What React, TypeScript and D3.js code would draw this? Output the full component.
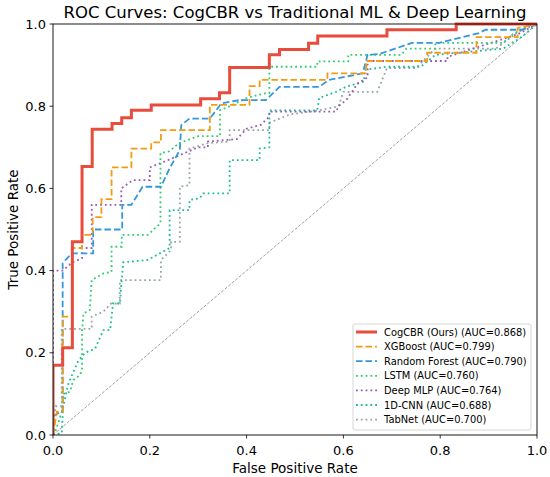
import * as d3 from "d3";

type Pt = [number, number];

const cogcbr: Pt[] = [
  [0, 0], [0, 0.17], [0.02, 0.17], [0.02, 0.212], [0.04, 0.212], [0.04, 0.47], [0.06, 0.47],
  [0.06, 0.653], [0.081, 0.653], [0.081, 0.744], [0.122, 0.744], [0.122, 0.758], [0.142, 0.758],
  [0.142, 0.772], [0.162, 0.772], [0.162, 0.79], [0.203, 0.79], [0.203, 0.803], [0.305, 0.803],
  [0.305, 0.818], [0.344, 0.818], [0.344, 0.833], [0.365, 0.833], [0.365, 0.894], [0.447, 0.894],
  [0.447, 0.925], [0.468, 0.925], [0.468, 0.938], [0.528, 0.938], [0.528, 0.953], [0.547, 0.953],
  [0.547, 0.971], [0.69, 0.971], [0.69, 0.986], [0.833, 0.986], [0.833, 1], [1, 1],
];

const xgboost: Pt[] = [
  [0, 0], [0.008, 0.057], [0.02, 0.057], [0.02, 0.288], [0.04, 0.288], [0.04, 0.455], [0.06, 0.455],
  [0.06, 0.487], [0.082, 0.487], [0.082, 0.53], [0.1, 0.53], [0.1, 0.574], [0.121, 0.574],
  [0.121, 0.651], [0.162, 0.651], [0.162, 0.697], [0.203, 0.697], [0.203, 0.712], [0.223, 0.712],
  [0.223, 0.742], [0.324, 0.742], [0.324, 0.803], [0.406, 0.803], [0.406, 0.849], [0.427, 0.849],
  [0.427, 0.864], [0.567, 0.864], [0.567, 0.88], [0.647, 0.88], [0.647, 0.91], [0.773, 0.91],
  [0.773, 0.93], [0.875, 0.93], [0.875, 0.968], [0.96, 0.968], [0.96, 0.99], [1, 1],
];

const randomForest: Pt[] = [
  [0, 0], [0, 0.045], [0.02, 0.06], [0.02, 0.418], [0.039, 0.442], [0.083, 0.442], [0.083, 0.5],
  [0.143, 0.5], [0.143, 0.56], [0.162, 0.56], [0.185, 0.604], [0.223, 0.604], [0.241, 0.649],
  [0.262, 0.693], [0.265, 0.754], [0.282, 0.77], [0.324, 0.77], [0.348, 0.807], [0.386, 0.815],
  [0.44, 0.815], [0.468, 0.847], [0.55, 0.847], [0.57, 0.864], [0.64, 0.88], [0.65, 0.925],
  [0.674, 0.927], [0.742, 0.954], [0.798, 0.954], [0.88, 0.978], [0.894, 0.986], [0.97, 0.986],
  [0.99, 1], [1, 1],
];

const lstm: Pt[] = [
  [0, 0], [0.004, 0.005], [0.019, 0.06], [0.021, 0.1], [0.035, 0.105], [0.042, 0.134],
  [0.056, 0.146], [0.06, 0.158], [0.06, 0.255], [0.063, 0.296], [0.076, 0.304], [0.08, 0.377],
  [0.104, 0.393], [0.121, 0.397], [0.121, 0.458], [0.142, 0.458], [0.142, 0.487], [0.196, 0.487],
  [0.222, 0.515], [0.222, 0.686], [0.24, 0.69], [0.26, 0.71], [0.3, 0.727], [0.345, 0.727],
  [0.345, 0.79], [0.365, 0.8], [0.4, 0.82], [0.44, 0.832], [0.447, 0.832], [0.447, 0.896],
  [0.546, 0.896], [0.546, 0.909], [0.61, 0.909], [0.61, 0.925], [0.72, 0.925], [0.73, 0.94],
  [0.79, 0.94], [0.79, 0.954], [0.93, 0.954], [0.95, 0.975], [0.99, 1], [1, 1],
];

const deepMlp: Pt[] = [
  [0, 0], [0, 0.4], [0.02, 0.4], [0.04, 0.42], [0.06, 0.43], [0.06, 0.455], [0.08, 0.455],
  [0.08, 0.56], [0.141, 0.56], [0.141, 0.6], [0.165, 0.62], [0.2, 0.62], [0.2, 0.651],
  [0.24, 0.67], [0.28, 0.69], [0.3, 0.7], [0.32, 0.7], [0.32, 0.714], [0.38, 0.72], [0.4, 0.745],
  [0.43, 0.755], [0.447, 0.775], [0.447, 0.787], [0.585, 0.787], [0.59, 0.8], [0.606, 0.815],
  [0.63, 0.856], [0.65, 0.87], [0.65, 0.91], [0.815, 0.91], [0.815, 0.92], [0.96, 0.975], [1, 1],
];

const cnn1d: Pt[] = [
  [0, 0], [0.018, 0.005], [0.021, 0.069], [0.032, 0.126], [0.052, 0.18], [0.066, 0.2],
  [0.087, 0.21], [0.104, 0.255], [0.118, 0.255], [0.124, 0.32], [0.138, 0.32], [0.145, 0.42],
  [0.196, 0.426], [0.241, 0.455], [0.241, 0.547], [0.282, 0.547], [0.282, 0.572], [0.303, 0.576],
  [0.31, 0.588], [0.365, 0.588], [0.365, 0.669], [0.427, 0.669], [0.427, 0.697], [0.447, 0.7],
  [0.447, 0.79], [0.546, 0.79], [0.55, 0.82], [0.585, 0.835], [0.605, 0.847], [0.643, 0.86],
  [0.643, 0.888], [0.688, 0.896], [0.76, 0.896], [0.79, 0.925], [0.93, 0.94], [0.97, 0.97], [1, 1],
];

const tabnet: Pt[] = [
  [0, 0], [0.005, 0.07], [0.018, 0.07], [0.018, 0.258], [0.08, 0.258], [0.08, 0.288],
  [0.104, 0.3], [0.12, 0.32], [0.138, 0.32], [0.138, 0.377], [0.223, 0.377], [0.223, 0.426],
  [0.244, 0.45], [0.244, 0.47], [0.262, 0.47], [0.262, 0.604], [0.282, 0.608], [0.282, 0.697],
  [0.32, 0.71], [0.365, 0.714], [0.365, 0.742], [0.447, 0.742], [0.447, 0.76], [0.49, 0.78],
  [0.55, 0.79], [0.59, 0.8], [0.6, 0.835], [0.67, 0.835], [0.69, 0.893], [0.75, 0.893],
  [0.79, 0.94], [0.915, 0.94], [0.96, 0.98], [1, 1],
];

const names = [
  "CogCBR (Ours) (AUC=0.868)",
  "XGBoost (AUC=0.799)",
  "Random Forest (AUC=0.790)",
  "LSTM (AUC=0.760)",
  "Deep MLP (AUC=0.764)",
  "1D-CNN (AUC=0.688)",
  "TabNet (AUC=0.700)",
];
const colors = ["#e74c3c", "#f39c12", "#3498db", "#2ecc71", "#9b59b6", "#1abc9c", "#95a5a6"];
const ticks = [0, 0.2, 0.4, 0.6, 0.8, 1.0];

const W = 550;
const H = 477;
const m = { left: 53, right: 13, top: 24, bottom: 42 };

export default function App() {
  const series = [cogcbr, xgboost, randomForest, lstm, deepMlp, cnn1d, tabnet];
  const x = d3.scaleLinear().domain([0, 1]).range([m.left, W - m.right]);
  const y = d3.scaleLinear().domain([0, 1]).range([H - m.bottom, m.top]);
  const line = d3
    .line<Pt>()
    .x((d) => x(d[0]))
    .y((d) => y(d[1]));

  // line styles: solid thick, dashed, dotted
  const style = (i: number) => {
    if (i === 0) return { w: 3, dash: "none" };
    if (i === 1 || i === 2) return { w: 1.8, dash: "6.5,3" };
    return { w: 1.8, dash: "1.8,3" };
  };

  const lg = { x: 353, y: 324, w: 178, h: 106, row: 14.6 };
  const font = "DejaVu Sans, sans-serif";

  return (
    <svg
      width={W}
      height={H}
      style={{ position: "absolute", left: 0, top: 0, background: "#fff" }}
      fontFamily={font}
    >
      <defs>
        <clipPath id="plot">
          <rect x={x(0)} y={y(1) - 2} width={x(1) - x(0)} height={y(0) - y(1) + 2} />
        </clipPath>
      </defs>
      <rect width={W} height={H} fill="#fff" />

      <line
        x1={x(0)}
        y1={y(0)}
        x2={x(1)}
        y2={y(1)}
        stroke="#888"
        strokeWidth={0.8}
        strokeDasharray="3,1.6"
      />

      <g clipPath="url(#plot)">
        {series
          .map((s, i) => ({ s, i }))
          .reverse()
          .map(({ s, i }) => {
            const st = style(i);
            return (
              <path
                key={i}
                d={line(s) || ""}
                fill="none"
                stroke={colors[i]}
                strokeWidth={st.w}
                strokeDasharray={st.dash}
              />
            );
          })}
      </g>

      <rect
        x={x(0)}
        y={y(1)}
        width={x(1) - x(0)}
        height={y(0) - y(1)}
        fill="none"
        stroke="#000"
        strokeWidth={0.9}
      />

      {ticks.map((t) => (
        <g key={"x" + t}>
          <line x1={x(t)} x2={x(t)} y1={y(0)} y2={y(0) + 3.5} stroke="#000" strokeWidth={0.8} />
          <text x={x(t)} y={y(0) + 20} fontSize={13} textAnchor="middle">
            {t.toFixed(1)}
          </text>
        </g>
      ))}
      {ticks.map((t) => (
        <g key={"y" + t}>
          <line x1={x(0) - 3.5} x2={x(0)} y1={y(t)} y2={y(t)} stroke="#000" strokeWidth={0.8} />
          <text x={x(0) - 7} y={y(t) + 4.6} fontSize={13} textAnchor="end">
            {t.toFixed(1)}
          </text>
        </g>
      ))}

      <text x={(x(0) + x(1)) / 2} y={473} fontSize={13.5} textAnchor="middle">
        False Positive Rate
      </text>
      <text
        transform={`translate(18,${(y(0) + y(1)) / 2}) rotate(-90)`}
        fontSize={13.5}
        textAnchor="middle"
      >
        True Positive Rate
      </text>
      <text x={(x(0) + x(1)) / 2} y={17.5} fontSize={16.5} textAnchor="middle">
        ROC Curves: CogCBR vs Traditional ML &amp; Deep Learning
      </text>

      <g>
        <rect
          x={lg.x}
          y={lg.y}
          width={lg.w}
          height={lg.h}
          rx={2}
          fill="#fff"
          fillOpacity={0.8}
          stroke="#ccc"
          strokeWidth={0.8}
        />
        {names.map((n, i) => {
          const st = style(i);
          const ry = lg.y + 8 + i * lg.row;
          return (
            <g key={n}>
              <line
                x1={lg.x + 3}
                x2={lg.x + 24}
                y1={ry}
                y2={ry}
                stroke={colors[i]}
                strokeWidth={st.w}
                strokeDasharray={st.dash}
              />
              <text x={lg.x + 31} y={ry + 3.5} fontSize={9.9}>
                {n}
              </text>
            </g>
          );
        })}
      </g>
    </svg>
  );
}
